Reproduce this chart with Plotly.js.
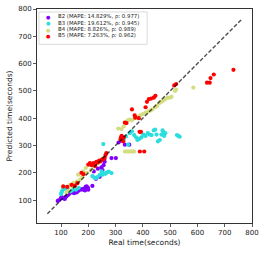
<!DOCTYPE html>
<html><head><meta charset="utf-8">
<script src="https://cdn.plot.ly/plotly-3.0.1.min.js"></script>
<style>html,body{margin:0;padding:0;background:#fff}#chart{width:266px;height:254px}</style>
</head><body><div id="chart"></div>
<script>
const seriesNames = ["B2 (MAPE: 14.829%, ρ: 0.977)", "B3 (MAPE: 19.612%, ρ: 0.945)", "B4 (MAPE: 8.826%, ρ: 0.989)", "B5 (MAPE: 7.263%, ρ: 0.962)"];
const seriesColors = ["#8000ff", "#2bdddd", "#d4dd80", "#ff0000"];

const b2X = [88, 93, 100, 104, 110, 114, 118, 122, 128, 133, 138, 143, 148, 152, 157, 162, 172, 177, 182, 186, 190, 194, 198, 200, 188, 215, 220, 228, 235, 242, 248, 252, 256, 260, 258, 285, 301, 311, 320, 334, 350];
const b2Y = [97, 100, 108, 110, 106, 104, 112, 116, 120, 126, 130, 128, 125, 130, 128, 132, 138, 140, 138, 142, 148, 150, 146, 138, 135, 152, 205, 178, 215, 185, 220, 210, 228, 240, 250, 254, 254, 311, 318, 303, 303];

const b3X = [100, 102, 105, 108, 112, 116, 120, 125, 130, 135, 140, 148, 155, 165, 215, 222, 228, 235, 242, 249, 252, 256, 262, 266, 270, 275, 285, 255, 330, 338, 346, 352, 360, 368, 375, 380, 388, 395, 402, 410, 418, 425, 432, 440, 445, 450, 455, 462, 468, 472, 475, 478, 482, 525, 530, 535];
const b3Y = [122, 128, 135, 140, 145, 142, 148, 138, 135, 132, 135, 140, 138, 145, 188, 182, 180, 185, 192, 205, 193, 198, 196, 200, 202, 204, 199, 305, 322, 333, 303, 345, 352, 338, 330, 320, 325, 330, 340, 335, 345, 340, 338, 355, 358, 340, 315, 320, 340, 355, 350, 335, 345, 338, 335, 332];

const b4X = [120, 128, 133, 140, 145, 150, 157, 163, 170, 178, 182, 191, 195, 206, 210, 220, 235, 245, 255, 310, 322, 330, 338, 345, 352, 360, 370, 380, 390, 400, 410, 420, 428, 435, 445, 452, 460, 468, 475, 482, 490, 498, 505, 518, 522, 585, 334, 340, 345, 350, 355, 359, 364, 368];
const b4Y = [128, 135, 156, 150, 162, 155, 168, 193, 175, 185, 205, 218, 200, 229, 210, 222, 235, 245, 255, 362, 360, 370, 385, 392, 395, 392, 400, 405, 410, 415, 420, 425, 428, 432, 440, 445, 455, 460, 465, 470, 475, 475, 478, 500, 505, 512, 278, 278, 278, 278, 278, 278, 278, 278];

const b5X = [108, 123, 139, 151, 160, 175, 182, 200, 206, 212, 219, 225, 230, 235, 240, 245, 250, 255, 260, 263, 266, 318, 320, 322, 325, 328, 330, 334, 340, 360, 370, 372, 385, 388, 393, 389, 405, 410, 415, 422, 430, 440, 446, 515, 522, 635, 645, 648, 660, 732];
const b5Y = [150, 148, 156, 152, 162, 200, 195, 230, 235, 228, 235, 225, 240, 238, 245, 242, 248, 250, 255, 265, 272, 322, 330, 335, 325, 315, 330, 384, 382, 432, 410, 402, 400, 350, 350, 278, 278, 440, 460, 470, 472, 475, 482, 520, 525, 530, 530, 547, 560, 577];

const identityX = [50, 765];
const identityY = [50, 765];

const xTicks = [100, 200, 300, 400, 500, 600, 700, 800];
const yTicks = [100, 200, 300, 400, 500, 600, 700, 800];

const xs = [b2X, b3X, b4X, b5X];
const ys = [b2Y, b3Y, b4Y, b5Y];

const traces = xs.map((x, i) => ({
  type: 'scatter', mode: 'markers', x: x, y: ys[i], name: seriesNames[i],
  marker: {color: seriesColors[i], size: 4.2, line: {width: 0}},
  showlegend: false, hoverinfo: 'skip'
}));
traces.push({
  type: 'scatter', mode: 'lines', x: identityX, y: identityY,
  line: {color: 'rgba(0,0,0,0.7)', width: 1.4, dash: '4px,2px'},
  showlegend: false, hoverinfo: 'skip'
});

const font = {family: 'DejaVu Sans', color: '#222'};
const legendRowsY = [0.964, 0.934, 0.904, 0.874];
const annotations = [];
seriesNames.forEach((n, i) => {
  annotations.push({xref: 'paper', yref: 'paper', x: 0.052, y: legendRowsY[i], xanchor: 'center', yanchor: 'middle',
    text: '●', showarrow: false, font: {family: 'DejaVu Sans', size: 5, color: seriesColors[i]}});
  annotations.push({xref: 'paper', yref: 'paper', x: 0.09, y: legendRowsY[i], xanchor: 'left', yanchor: 'middle',
    text: n, showarrow: false, font: {family: 'DejaVu Sans', size: 5.4, color: '#222'}});
});

const axisCommon = {
  showgrid: false, zeroline: false, showline: true, mirror: true,
  linecolor: '#333', linewidth: 1, ticks: 'outside', ticklen: 3, tickwidth: 0.8, tickcolor: '#333',
  tickfont: {family: 'DejaVu Sans', size: 7, color: '#222'}
};

const layout = {
  width: 266, height: 254,
  margin: {l: 37, r: 14, t: 9, b: 31},
  paper_bgcolor: '#fff', plot_bgcolor: '#fff',
  font: font,
  xaxis: Object.assign({}, axisCommon, {range: [12, 800], tickvals: xTicks, ticktext: xTicks.map(String),
    title: {text: 'Real time(seconds)', font: {family: 'DejaVu Sans', size: 7.5, color: '#222'}, standoff: 3}}),
  yaxis: Object.assign({}, axisCommon, {range: [16, 800], tickvals: yTicks, ticktext: yTicks.map(String),
    title: {text: 'Predicted time(seconds)', font: {family: 'DejaVu Sans', size: 7.5, color: '#222'}, standoff: 4}}),
  shapes: [{type: 'rect', xref: 'paper', yref: 'paper', x0: 0.009, x1: 0.512, y0: 0.835, y1: 0.986,
    line: {color: '#d0d0d0', width: 0.8}, fillcolor: 'rgba(255,255,255,0.8)', layer: 'above'}],
  annotations: annotations,
  showlegend: false
};

Plotly.newPlot('chart', traces, layout, {staticPlot: true, displayModeBar: false});
</script>
</body></html>
